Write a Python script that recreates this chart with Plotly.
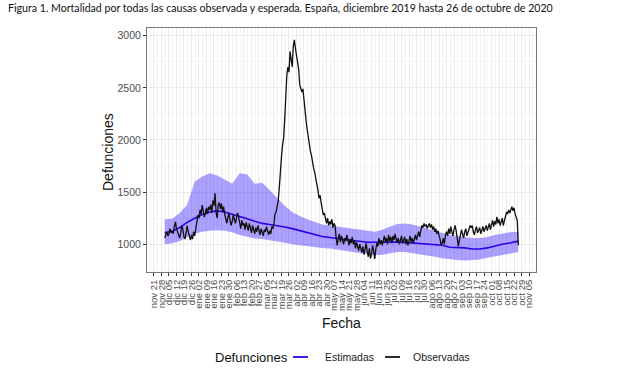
import pandas as pd
import plotly.graph_objects as go

# ---------------- data ----------------
obs_start = "2019-12-01"
obs_end = "2020-10-26"
observadas = [
    1060, 1090, 1120, 1080, 1100, 1150, 1110,
    1130, 1100, 1170, 1215, 1150, 1120, 1080,
    1060, 1110, 1180, 1140, 1070, 1050, 1110,
    1180, 1120, 1060, 1040, 1090, 1050, 1120,
    1080, 1150, 1220, 1280, 1250, 1330, 1290,
    1375, 1320, 1260, 1300, 1350, 1290, 1360,
    1330, 1380, 1300, 1420, 1370, 1490, 1300,
    1250, 1380, 1400, 1340, 1390, 1310, 1360,
    1290, 1250, 1200, 1260, 1300, 1230, 1180,
    1220, 1280, 1240, 1200, 1250, 1300, 1260,
    1190, 1150, 1230, 1180, 1200, 1140, 1210,
    1170, 1130, 1200, 1150, 1110, 1180, 1140,
    1100, 1160, 1120, 1180, 1130, 1090, 1150,
    1110, 1080, 1140, 1120, 1170, 1130, 1090,
    1130, 1100, 1170, 1150, 1200, 1290, 1310,
    1380, 1420, 1550, 1760, 1840, 1950, 2020,
    2200, 2420, 2625, 2700, 2650, 2850, 2780,
    2700, 2900, 2960, 2880, 2820, 2750, 2680,
    2530, 2500, 2460, 2490, 2360, 2270, 2180,
    2100, 2020, 1960, 1890, 1850, 1760, 1730,
    1690, 1640, 1567, 1520, 1440, 1470, 1400,
    1350, 1280, 1300, 1240, 1200, 1250, 1180,
    1220, 1190, 1240, 1160, 1200, 1180, 1060,
    990, 1060, 1100, 1020, 1080, 1040, 1000,
    1060, 1030, 1090, 1020, 990, 1050, 1010,
    1070, 1000, 1040, 960, 1020, 980, 940,
    1000, 960, 920, 980, 900, 950, 1010,
    930, 880, 960, 865, 900, 990, 940,
    860, 950, 1010, 980, 1060, 1000, 1040,
    990, 1050, 1080, 1020, 1060, 1000, 1090,
    1030, 1070, 1010, 1080, 1040, 1100, 1050,
    1020, 1060, 1000, 1040, 1080, 1010, 1050,
    1070, 1000, 1050, 990, 1040, 1080, 1020,
    1060, 1010, 1050, 1090, 1040, 1080, 1120,
    1070, 1130, 1180, 1160, 1200, 1170, 1190,
    1150, 1180, 1200, 1160, 1190, 1140, 1170,
    1120, 1150, 1100, 1130, 1080, 1050, 990,
    1010, 1060, 1000, 1090, 1120, 1080, 1150,
    1100, 1170, 1120, 1080, 1140, 1180, 1130,
    1060, 980, 1040, 1090, 1140, 1100, 1060,
    1120, 1150, 1080, 1110, 1140, 1180, 1160,
    1180, 1120, 1090, 1140, 1170, 1110, 1130,
    1160, 1100, 1140, 1170, 1120, 1150, 1180,
    1130, 1160, 1200, 1140, 1190, 1230, 1170,
    1220, 1190, 1262, 1200, 1240, 1180, 1230,
    1250, 1180, 1220, 1270, 1310, 1290, 1330,
    1300, 1340, 1360, 1320, 1350, 1290, 1260,
    1230, 990,
]

est_dates = [
    "2019-12-01", "2019-12-08", "2019-12-15", "2019-12-22", "2019-12-29",
    "2020-01-05", "2020-01-12", "2020-01-19", "2020-01-26", "2020-02-02",
    "2020-02-09", "2020-02-16", "2020-02-23", "2020-03-01", "2020-03-08",
    "2020-03-15", "2020-03-22", "2020-03-29", "2020-04-05", "2020-04-12",
    "2020-04-19", "2020-04-26", "2020-05-03", "2020-05-10", "2020-05-17",
    "2020-05-24", "2020-05-31", "2020-06-07", "2020-06-14", "2020-06-21",
    "2020-06-28", "2020-07-05", "2020-07-12", "2020-07-19", "2020-07-26",
    "2020-08-02", "2020-08-09", "2020-08-16", "2020-08-23", "2020-08-30",
    "2020-09-06", "2020-09-13", "2020-09-20", "2020-09-27", "2020-10-04",
    "2020-10-11", "2020-10-18", "2020-10-26",
]
estimadas = [
    1110, 1125, 1160, 1210, 1250, 1285, 1310, 1320, 1310, 1290,
    1270, 1245, 1220, 1200, 1190, 1180, 1165, 1150, 1130, 1110,
    1095, 1075, 1065, 1055, 1045, 1035, 1025, 1020, 1020, 1022,
    1025, 1022, 1018, 1012, 1008, 1005, 1000, 990, 972, 970,
    965, 955, 955, 965, 985, 1000, 1012, 1030,
]
banda_sup = [
    1240, 1245, 1300, 1380, 1600, 1650, 1680, 1660, 1620, 1580,
    1680, 1670, 1580, 1590, 1520, 1440, 1370, 1310, 1270, 1240,
    1215, 1190, 1180, 1170, 1160, 1150, 1140, 1125, 1120, 1140,
    1170, 1195, 1200, 1190, 1170, 1150, 1130, 1105, 1090, 1080,
    1070, 1060, 1060, 1070, 1090, 1105, 1115, 1120,
]
banda_inf = [
    1000, 1010, 1030, 1070, 1100, 1120, 1130, 1135, 1130, 1115,
    1090, 1075, 1055, 1050, 1040, 1030, 1015, 1000, 990, 980,
    975, 965, 960, 950, 940, 930, 915, 905, 895, 900,
    915, 925, 925, 915, 905, 895, 880, 865, 855, 850,
    845, 848, 855, 870, 885, 900, 915, 925,
]

tick_dates = pd.date_range("2019-11-21", "2020-11-05", freq="7D")
tick_labels = [
    "nov 21", "nov 28", "dic 05", "dic 12", "dic 19", "dic 26",
    "ene 02", "ene 09", "ene 16", "ene 23", "ene 30",
    "feb 06", "feb 13", "feb 20", "feb 27",
    "mar 05", "mar 12", "mar 19", "mar 26",
    "abr 02", "abr 09", "abr 16", "abr 23", "abr 30",
    "may 07", "may 14", "may 21", "may 28",
    "jun 04", "jun 11", "jun 18", "jun 25",
    "jul 02", "jul 09", "jul 16", "jul 23", "jul 30",
    "ago 06", "ago 13", "ago 20", "ago 27",
    "sep 03", "sep 10", "sep 17", "sep 24",
    "oct 01", "oct 08", "oct 15", "oct 22", "oct 29",
    "nov 05",
]
y_ticks = [1000, 1500, 2000, 2500, 3000]
y_minor = [750, 1250, 1750, 2250, 2750]

series_names = ["Estimadas", "Observadas"]
series_colors = ["#2D00E8", "#111111"]
legend_title = "Defunciones"
x_title = "Fecha"
y_title = "Defunciones"

titulo = ("Figura 1. Mortalidad por todas las causas observada y esperada. "
          "España, diciembre 2019 hasta 26 de octubre de 2020")

# ---------------- figure ----------------
W, H = 620, 368
L, R, T, B = 147, 84, 28, 96
obs_dates = pd.date_range(obs_start, obs_end, freq="D")
est_x = pd.to_datetime(est_dates)
minor_vals = list(tick_dates - pd.Timedelta(hours=84)) + [tick_dates[-1] + pd.Timedelta(hours=84)]

FONT = "Liberation Sans, Arial, sans-serif"

fig = go.Figure()
fig.add_trace(go.Scatter(x=est_x, y=banda_sup, mode="lines", line=dict(width=0),
                         showlegend=False, hoverinfo="skip"))
fig.add_trace(go.Scatter(x=est_x, y=banda_inf, mode="lines", line=dict(width=0),
                         fill="tonexty", fillcolor="rgba(60,30,255,0.42)",
                         showlegend=False, hoverinfo="skip"))
fig.add_trace(go.Scatter(x=est_x, y=estimadas, mode="lines", name=series_names[0],
                         showlegend=False, line=dict(color=series_colors[0], width=1.6)))
fig.add_trace(go.Scatter(x=obs_dates, y=observadas, mode="lines", name=series_names[1],
                         showlegend=False, line=dict(color=series_colors[1], width=1.3)))

pw, ph = W - L - R, H - T - B


def px_x(px):
    return (px - L) / pw


def px_y(py):
    return (H - B - py) / ph


# axis titles and manual legend (paper coordinates)
leg_y = 357
annotations = [
    dict(text=y_title, x=px_x(108), y=px_y(152), xanchor="center", yanchor="middle",
         textangle=-90, font=dict(size=14, color="#111")),
    dict(text=x_title, x=px_x(341), y=px_y(323), xanchor="center", yanchor="middle",
         font=dict(size=14, color="#111")),
    dict(text=legend_title, x=px_x(213), y=px_y(leg_y), xanchor="left", yanchor="middle",
         font=dict(size=13, color="#111")),
]
shapes = []
key_x = [293, 385]
text_x = [323, 411]
for name, col, kx, tx in zip(series_names, series_colors, key_x, text_x):
    shapes.append(dict(type="line", xref="paper", yref="paper",
                       x0=px_x(kx), x1=px_x(kx + 15), y0=px_y(leg_y), y1=px_y(leg_y),
                       line=dict(color=col, width=1.8)))
    annotations.append(dict(text=name, x=px_x(tx), y=px_y(leg_y), xanchor="left",
                            yanchor="middle", font=dict(size=10.5, color="#222")))
for a in annotations:
    a.update(xref="paper", yref="paper", showarrow=False)

fig.update_layout(
    width=W, height=H,
    margin=dict(l=L, r=R, t=T, b=B, autoexpand=False),
    paper_bgcolor="white", plot_bgcolor="white",
    font=dict(family=FONT, color="#222"),
    title=dict(text=titulo, x=8 / W, xanchor="left", y=1 - 8 / H, yanchor="middle",
               font=dict(family="Lato, Open Sans, sans-serif", size=10.6, color="#111")),
    showlegend=False,
    annotations=annotations,
    shapes=shapes,
)

fig.update_xaxes(
    type="date", automargin=False,
    range=["2019-11-14 12:00", "2020-11-11 12:00"],
    tickmode="array", tickvals=tick_dates, ticktext=tick_labels,
    tickangle=-90, tickfont=dict(size=9.5, color="#4D4D4D"),
    ticks="outside", ticklen=3, tickcolor="#333", tickwidth=1,
    showgrid=True, gridcolor="#EBEBEB", gridwidth=1,
    minor=dict(tickmode="array", tickvals=minor_vals, showgrid=True,
               gridcolor="#F4F4F4", gridwidth=0.6, ticks=""),
    showline=True, linecolor="#777", linewidth=1, mirror=True,
    zeroline=False,
)
fig.update_yaxes(
    automargin=False,
    range=[734, 3074],
    tickmode="array", tickvals=y_ticks,
    tickfont=dict(size=10.5, color="#4D4D4D"),
    ticks="outside", ticklen=3, tickcolor="#333", tickwidth=1,
    showgrid=True, gridcolor="#EBEBEB", gridwidth=1,
    minor=dict(tickmode="array", tickvals=y_minor, showgrid=True,
               gridcolor="#F4F4F4", gridwidth=0.6, ticks=""),
    showline=True, linecolor="#777", linewidth=1, mirror=True,
    zeroline=False,
)

fig.write_html("out.html", config={"displayModeBar": False},
               post_script="document.body.style.margin='0px';")
